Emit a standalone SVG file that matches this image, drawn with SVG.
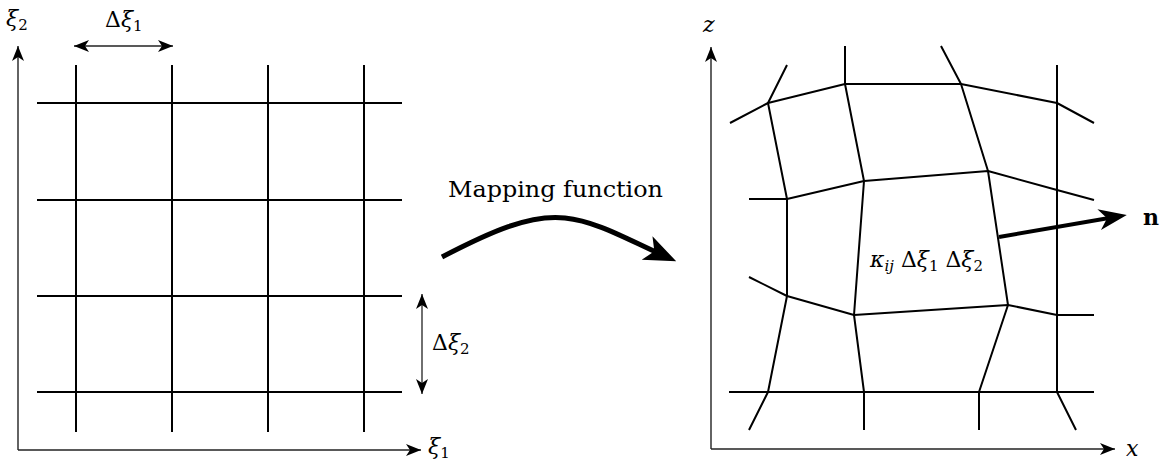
<svg xmlns="http://www.w3.org/2000/svg" width="1173" height="468" viewBox="0 0 1173 468">
<style>
.grid{stroke:#000;stroke-width:2;fill:none;stroke-linejoin:round}
.axis{stroke:#222;stroke-width:1.4;fill:none}
.dim{stroke:#222;stroke-width:1.3;fill:none}
.math{font-family:"DejaVu Serif","Liberation Serif",serif;font-size:22px;fill:#000}
.it{font-style:italic}
.sub{font-size:15px}
</style>
<defs>
<marker id="ah" viewBox="-17 -8 19 16" markerWidth="19" markerHeight="16" refX="0" refY="0" orient="auto-start-reverse" markerUnits="userSpaceOnUse">
<path d="M0,0 L-15,-6 L-11,0 L-15,6 Z" fill="#000"/>
</marker>
<marker id="big" viewBox="-34 -15 36 30" markerWidth="36" markerHeight="30" refX="-20" refY="0" orient="auto" markerUnits="userSpaceOnUse">
<path d="M0,0 L-32,-13 L-24,0 L-32,13 Z" fill="#000"/>
</marker>
<marker id="med" viewBox="-30 -12 32 24" markerWidth="32" markerHeight="24" refX="-15" refY="0" orient="auto" markerUnits="userSpaceOnUse">
<path d="M0,0 L-28,-10.5 L-20,0 L-28,10.5 Z" fill="#000"/>
</marker>
</defs>

<g id="left-grid" class="grid">
<line x1="76" y1="65" x2="76" y2="432"/>
<line x1="172" y1="65" x2="172" y2="432"/>
<line x1="268" y1="65" x2="268" y2="432"/>
<line x1="364" y1="65" x2="364" y2="432"/>
<line x1="37" y1="103" x2="402" y2="103"/>
<line x1="37" y1="200" x2="402" y2="200"/>
<line x1="37" y1="296" x2="402" y2="296"/>
<line x1="37" y1="392" x2="402" y2="392"/>
</g>

<g id="right-mesh" class="grid">
<polyline points="730,123 768,103 845,84 961,84 1057,103 1094,123"/>
<polyline points="749,199 787,199 864,181 988,171 1057,190 1094,200"/>
<polyline points="749,277 787,296 854,315 1008,305 1057,315 1094,315"/>
<line x1="729" y1="392" x2="1094" y2="392"/>
<polyline points="787,65 768,103 787,199 787,296 768,392 749,430"/>
<polyline points="845,46 845,84 864,181 854,315 864,392 864,430"/>
<polyline points="941,46 961,84 988,171 1008,305 979,392 979,430"/>
<polyline points="1057,65 1057,392 1076,430"/>
</g>

<g id="connectors">
<path id="axis-xi2" class="axis" d="M18,450 V46" marker-end="url(#ah)"/>
<path id="axis-xi1" class="axis" d="M18,450 H421" marker-end="url(#ah)"/>
<path id="axis-z" class="axis" d="M711,449 V47" marker-end="url(#ah)"/>
<path id="axis-x" class="axis" d="M711,449 H1115" marker-end="url(#ah)"/>
<path id="dim-xi1" class="dim" d="M74,46 H173" marker-start="url(#ah)" marker-end="url(#ah)"/>
<path id="dim-xi2" class="dim" d="M422,294 V394" marker-start="url(#ah)" marker-end="url(#ah)"/>
<path id="mapping-arrow" d="M442,257 C490,232 530,214 565,218 C595,221 625,238 658,253" fill="none" stroke="#000" stroke-width="5" marker-end="url(#big)"/>
<path id="normal-arrow" d="M999,237 L1112,217.5" fill="none" stroke="#000" stroke-width="4" marker-end="url(#med)"/>
</g>

<g id="labels">
<text class="math" x="6" y="26"><tspan class="it">ξ</tspan><tspan class="sub" dy="4">2</tspan></text>
<text class="math" x="105" y="27">Δ<tspan class="it">ξ</tspan><tspan class="sub" dy="4">1</tspan></text>
<text class="math" x="432" y="350">Δ<tspan class="it">ξ</tspan><tspan class="sub" dy="4">2</tspan></text>
<text class="math" x="428" y="454"><tspan class="it">ξ</tspan><tspan class="sub" dy="4">1</tspan></text>
<text x="448" y="197" font-family="DejaVu Serif, Liberation Serif, serif" font-size="22" textLength="215" lengthAdjust="spacingAndGlyphs">Mapping function</text>
<text class="math it" x="703" y="32">z</text>
<text class="math it" x="1126" y="456" font-size="24">x</text>
<text x="1143" y="225" font-family="DejaVu Serif, Liberation Serif, serif" font-size="22" font-weight="bold">n</text>
<text class="math" x="870" y="267"><tspan class="it">κ</tspan><tspan class="sub it" dy="4">ij</tspan><tspan dy="-4"> Δ</tspan><tspan class="it">ξ</tspan><tspan class="sub" dy="4">1</tspan><tspan dy="-4"> Δ</tspan><tspan class="it">ξ</tspan><tspan class="sub" dy="4">2</tspan></text>
</g>
</svg>
